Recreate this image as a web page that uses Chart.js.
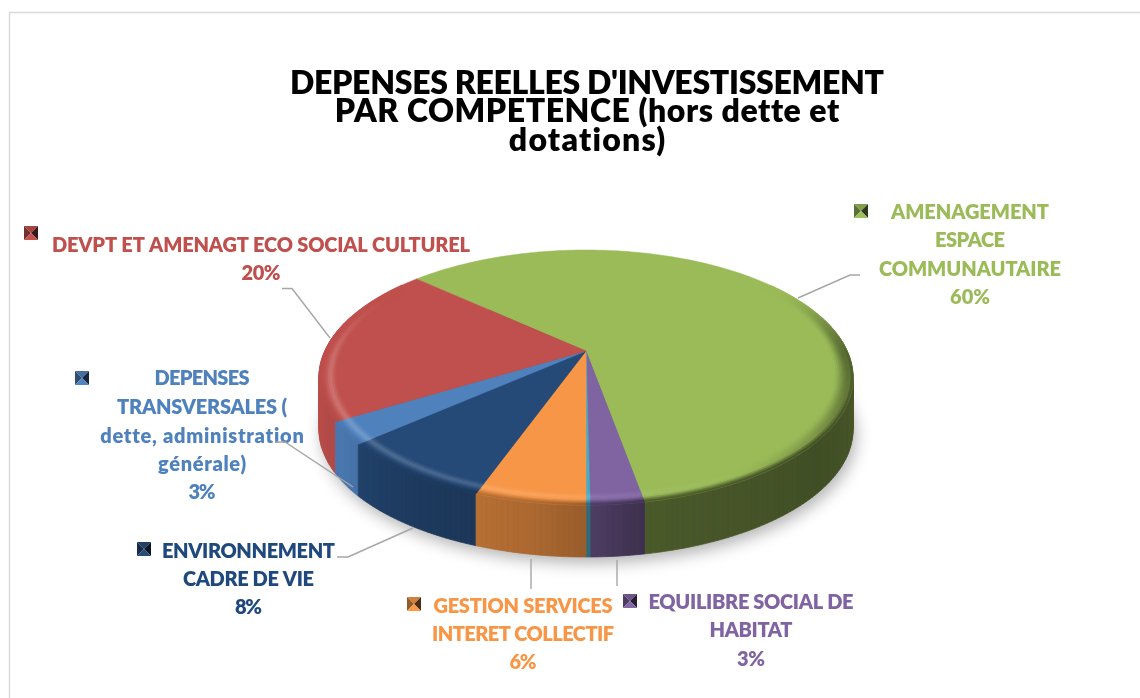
<!DOCTYPE html>
<html><head><meta charset="utf-8">
<style>html,body{margin:0;padding:0;background:#fff}canvas{display:block}</style>
<script src="https://cdn.jsdelivr.net/npm/chart.js@4"></script>
</head><body>
<canvas id="c" width="1140" height="698"></canvas>
<script>
// ---- data ----
const titleLines = ["DEPENSES REELLES D'INVESTISSEMENT", "PAR COMPETENCE (hors dette et", "dotations)"];
const categories = ["AMENAGEMENT ESPACE COMMUNAUTAIRE", "EQUILIBRE SOCIAL DE HABITAT", "", "GESTION SERVICES INTERET COLLECTIF", "ENVIRONNEMENT CADRE DE VIE", "DEPENSES TRANSVERSALES ( dette, administration générale)", "DEVPT ET AMENAGT ECO SOCIAL CULTUREL"];
const values = [60.4, 2.65, 0.2, 5.5, 8.05, 2.8, 20.4];
const sliceColors = ["#9bbb59", "#8064a2", "#4bacc6", "#f79646", "#254a78", "#4f81bd", "#c0504d"];
const percentLabels = ["60%", "3%", null, "6%", "8%", "3%", "20%"];
const labelLines = [
  ["AMENAGEMENT", "ESPACE", "COMMUNAUTAIRE"],
  ["EQUILIBRE SOCIAL DE", "HABITAT"],
  null,
  ["GESTION SERVICES", "INTERET COLLECTIF"],
  ["ENVIRONNEMENT", "CADRE DE VIE"],
  ["DEPENSES", "TRANSVERSALES (", "dette, administration", "générale)"],
  ["DEVPT ET AMENAGT ECO SOCIAL CULTUREL"]
];
// ---- layout (positions and fitted widths of annotations) ----
const labelPos = [
  {x:970,y:[213,241,270,298],w:[158,70,182,40],key:[854,204]},
  {x:751,y:[603,631,660],w:[205,83,28],key:[623,594]},
  null,
  {x:523,y:[607,635,663],w:[179,182,27],key:[407,597]},
  {x:248.5,y:[552,580,608],w:[173,131,27],key:[137,542]},
  {x:202,y:[379,408,437,465,493],w:[95,170,203,88,27],key:[75,371]},
  {x:261,y:[246,274],w:[418,39],key:[24,226]}
];
const titlePos = {x:587,y:[94,122.2,150.5],w:[594,503,157]};
const leaders = [
  [[798,298],[850,275],[860,275]],
  [[617,560],[617,586]],
  [[531,559],[531,589]],
  [[337,557],[348,557],[413,528]],
  [[275,442],[285,442],[353,487]],
  [[282,288.5],[292,288.5],[330,338]]
];
// perspective of the disc
const P = {apexX:586, apexY:351, A:261.2, B:122, k:0.2079, depth:52};
function proj(a, r){
  const x = r*Math.cos(a), y = r*Math.sin(a), w = 1 - P.k*y;
  return [P.apexX + P.A*x/w, P.apexY + P.B*y/w];
}
function hexRgb(h){return [1,3,5].map(i=>parseInt(h.substr(i,2),16));}
function rgb(c){return `rgb(${c.map(v=>Math.round(Math.max(0,Math.min(255,v)))).join(',')})`;}
function mix(a,b,t){return a.map((v,i)=>v+(b[i]-v)*t);}
function clamp(v){return Math.max(0,Math.min(1,v));}
function smooth(t){t=clamp(t);return t*t*(3-2*t);}
const wallTable = [[0,.6],[60,.6],[90,.5],[130,.42],[170,.48],[180,.62],[190,.7],[215,.8],[235,.93],[260,.97],[290,1],[360,1]];
function wallFactor(t){
  for(let i=1;i<wallTable.length;i++){
    if(t<=wallTable[i][0]){const p=wallTable[i-1],q=wallTable[i];return p[1]+(q[1]-p[1])*(t-p[0])/(q[0]-p[0]);}
  }
  return 1;
}
function degFromTop(a){let t=(a+Math.PI/2)*180/Math.PI;t%=360;if(t<0)t+=360;return t;}
const STEP = Math.PI/180;
function segs(a0,a1){
  const n=Math.max(1,Math.ceil((a1-a0)/STEP)),out=[];
  for(let i=0;i<n;i++) out.push([a0+(a1-a0)*i/n,a0+(a1-a0)*(i+1)/n]);
  return out;
}
function fitText(c,t,x,y,w){
  c.letterSpacing='0px';
  const m=c.measureText(t).width;
  const ls=(w-m)/Math.max(1,t.length-1);
  c.letterSpacing=(Math.abs(ls)<0.01?0.01:ls).toFixed(3)+'px';
  c.fillText(t,x+ls/2,y);
  c.letterSpacing='0px';
}
const pie3d = {
  id:'pie3d',
  beforeDraw(chart){
    const c=chart.ctx;
    c.save();c.fillStyle='#fff';c.fillRect(0,0,1140,698);
    c.strokeStyle='#d9d9d9';c.lineWidth=1.4;c.beginPath();c.moveTo(9.5,698);c.lineTo(9.5,12.5);c.lineTo(1140,12.5);c.stroke();
    c.restore();
  },
  beforeDatasetsDraw(chart){
    const c=chart.ctx, arcs=chart.getDatasetMeta(0).data;
    c.save();
    c.save();
    c.shadowColor='rgba(0,0,0,0.3)';c.shadowBlur=16;c.shadowOffsetY=7;c.shadowOffsetX=3;
    c.fillStyle='#555';c.beginPath();
    for(let i=0;i<=180;i++){const p=proj(i*2*STEP,1);c.lineTo(p[0],p[1]+P.depth-1);}
    c.closePath();c.fill();c.restore();
    const wall=[];
    arcs.forEach((el,i)=>{
      const base=hexRgb(sliceColors[i]);
      segs(el.startAngle,el.endAngle).forEach(s=>wall.push({s,base}));
    });
    wall.sort((u,v)=>Math.sin(u.s[0])-Math.sin(v.s[0]));
    wall.forEach(({s,base})=>{
      const mid=(s[0]+s[1])/2;
      if(Math.sin(mid)<-0.3) return;
      const col=rgb(base.map(v=>v*wallFactor(degFromTop(mid))));
      const p=proj(s[0],1),q=proj(s[1],1);
      c.fillStyle=col;c.strokeStyle=col;c.lineWidth=.7;
      c.beginPath();c.moveTo(p[0],p[1]);c.lineTo(q[0],q[1]);c.lineTo(q[0],q[1]+P.depth);c.lineTo(p[0],p[1]+P.depth);c.closePath();c.fill();c.stroke();
    });
    arcs.forEach((el,i)=>{
      c.fillStyle=sliceColors[i];c.strokeStyle=sliceColors[i];c.lineWidth=.5;
      c.beginPath();c.moveTo(P.apexX,P.apexY);
      segs(el.startAngle,el.endAngle).forEach((s,j)=>{
        if(j===0){const p=proj(s[0],1);c.lineTo(p[0],p[1]);}
        const q=proj(s[1],1);c.lineTo(q[0],q[1]);
      });
      c.closePath();c.fill();c.stroke();
    });
    const N=9, r0=.93;
    arcs.forEach((el,i)=>{
      const base=hexRgb(sliceColors[i]);
      segs(el.startAngle,el.endAngle).forEach(s=>{
        const mid=(s[0]+s[1])/2,t=degFromTop(mid);
        const vis=smooth((-Math.cos(t*Math.PI/180)+.6)/.7);
        if(vis<=0) return;
        const wc=base.map(v=>v*wallFactor(t));
        const lc=Math.cos((t-240)*Math.PI/180),hw=Math.max(0,lc),dw=Math.max(0,-lc);
        for(let j=0;j<N;j++){
          const f0=j/N,f1=(j+1)/N,f=(f0+f1)/2;
          const ra=r0+(1-r0)*f0,rb=r0+(1-r0)*f1;
          let col=mix(base,wc,Math.max(smooth((f-.55)/.45),dw*smooth(f*1.3)));
          const bump=Math.exp(-Math.pow((f-.42)/.2,2));
          col=mix(col,[255,255,255],.2*hw*bump);
          col=mix(base,col,vis);
          const css=rgb(col);
          const a=proj(s[0],ra),b=proj(s[1],ra),d=proj(s[1],rb),e=proj(s[0],rb);
          c.fillStyle=css;c.strokeStyle=css;c.lineWidth=.6;
          c.beginPath();c.moveTo(a[0],a[1]);c.lineTo(b[0],b[1]);c.lineTo(d[0],d[1]);c.lineTo(e[0],e[1]);c.closePath();c.fill();c.stroke();
        }
      });
    });
    c.restore();
    return false;
  },
  afterDraw(chart){
    const c=chart.ctx;
    c.save();
    c.textAlign='center';
    c.font='800 32px Lato';c.textBaseline='alphabetic';c.fillStyle='#000';
    titleLines.forEach((t,i)=>fitText(c,t,titlePos.x,titlePos.y[i],titlePos.w[i]));
    c.font='800 20px Lato';c.textBaseline='middle';
    labelLines.forEach((lines,i)=>{
      if(!lines) return;
      const pos=labelPos[i], col=sliceColors[i]==='#254a78'?'#1f497d':sliceColors[i];
      c.fillStyle=col;
      lines.concat([percentLabels[i]]).forEach((t,j)=>fitText(c,t,pos.x,pos.y[j],pos.w[j]));
      const [kx,ky]=pos.key,sz=14,b=hexRgb(sliceColors[i]);
      const tri=(pts,f)=>{c.fillStyle=rgb(b.map(v=>v*f));c.beginPath();pts.forEach(p=>c.lineTo(p[0],p[1]));c.closePath();c.fill();};
      const m=[kx+sz/2,ky+sz/2],tl=[kx,ky],tr=[kx+sz,ky],br=[kx+sz,ky+sz],bl=[kx,ky+sz];
      tri([tl,tr,m],.85);tri([tl,bl,m],.6);tri([tr,br,m],.3);tri([bl,br,m],1.02);
    });
    c.strokeStyle='#a6a6a6';c.lineWidth=1.4;
    leaders.forEach(l=>{c.beginPath();l.forEach(p=>c.lineTo(p[0],p[1]));c.stroke();});
    c.restore();
  }
};
new Chart(document.getElementById('c'),{
  type:'pie',
  data:{labels:categories,datasets:[{data:values,backgroundColor:sliceColors,borderWidth:0}]},
  plugins:[pie3d],
  options:{
    responsive:false,animation:false,rotation:-47.7,
    plugins:{legend:{display:false},tooltip:{enabled:false},title:{display:false}}
  }
});
</script>
</body></html>
